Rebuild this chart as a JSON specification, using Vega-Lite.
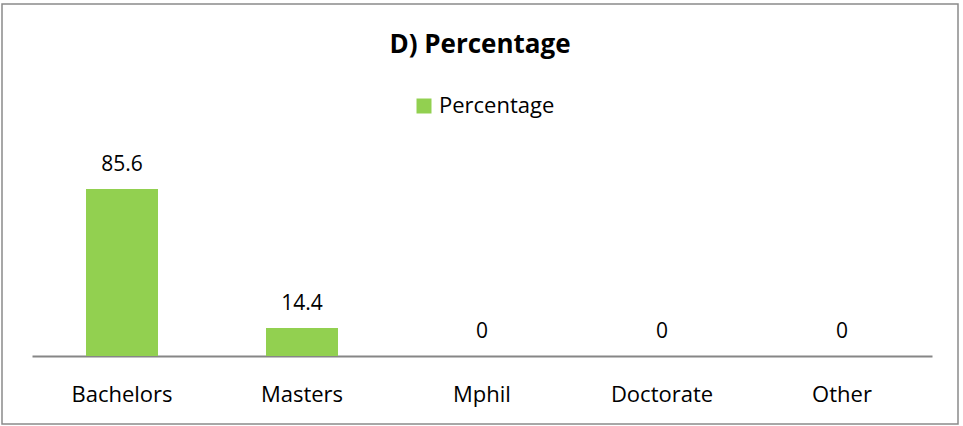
{
  "$schema": "https://vega.github.io/schema/vega-lite/v6.json",
  "width": 956,
  "height": 420,
  "autosize": "none",
  "padding": {"left": 2, "top": 4, "right": 5, "bottom": 2},
  "background": "white",
  "data": {"values": [
    {"Degree": "Bachelors", "Percentage": 85.6, "Series": "Percentage"},
    {"Degree": "Masters", "Percentage": 14.4, "Series": "Percentage"},
    {"Degree": "Mphil", "Percentage": 0, "Series": "Percentage"},
    {"Degree": "Doctorate", "Percentage": 0, "Series": "Percentage"},
    {"Degree": "Other", "Percentage": 0, "Series": "Percentage"}
  ]},
  "title": {"text": "D) Percentage", "orient": "top", "anchor": "middle", "offset": 0, "dy": 75, "fontSize": 26, "fontWeight": "bold", "font": "Open Sans", "color": "#000000", "baseline": "alphabetic"},
  "config": {
    "view": {"stroke": "#8a8a8a", "strokeWidth": 1.5},
    "font": "Open Sans"
  },
  "encoding": {
    "x": {"field": "Degree", "type": "nominal", "sort": null,
      "scale": {"range": [30, 930], "paddingInner": 0.6, "paddingOuter": 0.3},
      "axis": {"title": null, "offset": -68, "labelAngle": 0, "labelFontSize": 22, "labelFont": "Open Sans", "labelColor": "#000000", "labelBaseline": "alphabetic", "labelPadding": 45, "ticks": false, "domainColor": "#868686", "domainWidth": 2}},
    "y": {"field": "Percentage", "type": "quantitative", "scale": {"domain": [-34.85, 180.4], "zero": false, "nice": false}, "axis": null}
  },
  "layer": [
    {"mark": {"type": "bar", "color": "#92D050"},
     "encoding": {"color": {"field": "Series", "type": "nominal", "scale": {"range": ["#92D050"]},
       "legend": {"title": null, "orient": "none", "legendX": 411, "legendY": 91, "symbolType": "square", "symbolSize": 225, "labelFontSize": 22, "labelFont": "Open Sans", "labelColor": "#000000", "symbolStrokeWidth": 0}},
       "y2": {"datum": 0}}},
    {"mark": {"type": "text", "dy": -18, "fontSize": 21, "font": "Open Sans", "color": "#000000", "baseline": "alphabetic"},
     "encoding": {"text": {"field": "Percentage", "type": "quantitative"}}}
  ]
}
